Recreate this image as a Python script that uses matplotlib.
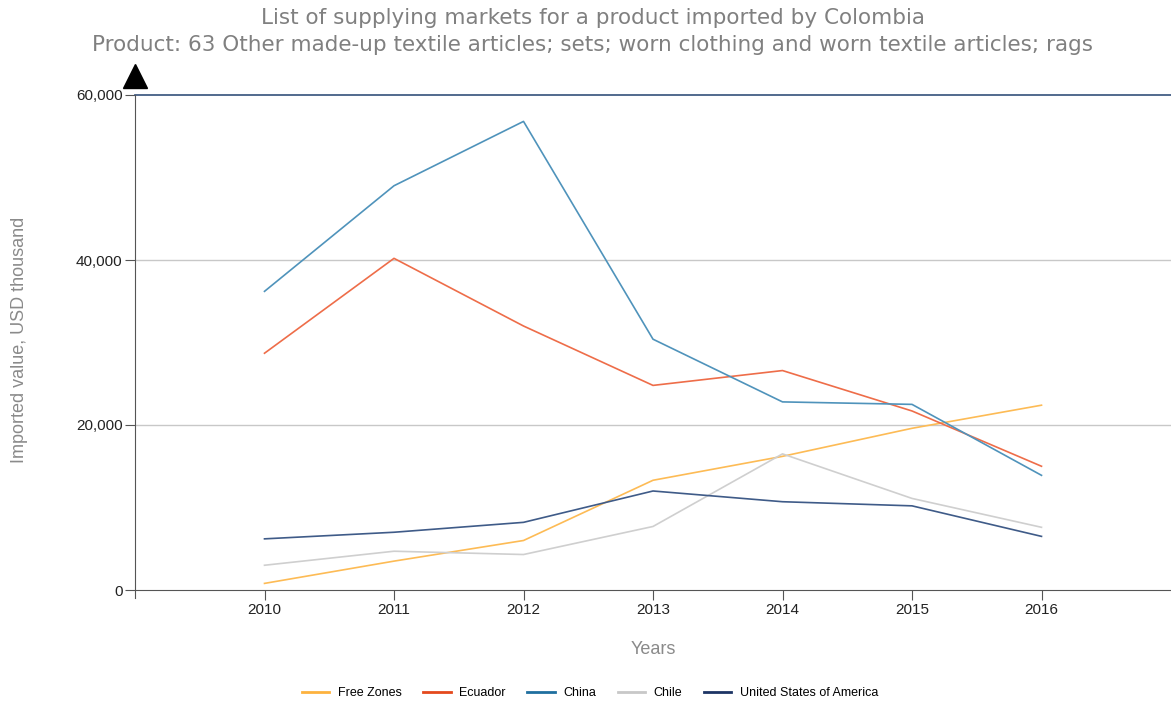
import matplotlib.pyplot as plt
from matplotlib.lines import Line2D

years = [2010, 2011, 2012, 2013, 2014, 2015, 2016]
free_zones = [800, 3500, 6000, 13300, 16200, 19600, 22400]
ecuador = [28700, 40200, 32000, 24800, 26600, 21700, 15000]
china = [36200, 49000, 56800, 30400, 22800, 22500, 13900]
chile = [3000, 4700, 4300, 7700, 16500, 11100, 7600]
usa = [6200, 7000, 8200, 12000, 10700, 10200, 6500]

series_names = ['Free Zones', 'Ecuador', 'China', 'Chile', 'United States of America']
series_vals = [free_zones, ecuador, china, chile, usa]
line_cols = ['#fdbb55', '#ee6d49', '#4f93bb', '#cfcfcf', '#3f5b88']
legend_cols = ['#fdb23e', '#e4491d', '#1f6f9f', '#c8c8c8', '#1d3465']

plt.rcParams['font.family'] = ['Liberation Sans', 'DejaVu Sans']

fig = plt.figure(figsize=(11.71, 7.04), dpi=100)
ax = fig.add_axes([135/1171, 1-590/704, 1-135/1171, (590-95)/704])

for vals, col in zip(series_vals, line_cols):
    ax.plot(years, vals, color=col, lw=1.2)

ax.set_xlim(2009, 2017)
ax.set_ylim(0, 60000)
ax.set_xticks(years)
ax.set_yticks([0, 20000, 40000, 60000])
ax.set_yticklabels(['0', '20,000', '40,000', '60,000'])
ax.tick_params(labelsize=11, length=7, color='#555555', labelcolor='#222222', pad=2)

for y in [20000, 40000]:
    ax.axhline(y, color='#c8c8c8', lw=1, zorder=0)
ax.axhline(60000, color='#34507a', lw=1.2, clip_on=False)

for s in ['top', 'right']:
    ax.spines[s].set_visible(False)
ax.spines['left'].set_color('#555555')
ax.spines['bottom'].set_color('#555555')
ax.spines['left'].set_bounds(-1000, 60000)

# arrow on top of y axis
ax.plot([2009], [62300], marker='^', markersize=17, color='black', clip_on=False)

fig.text(20/1171, 1-340/704, 'Imported value, USD thousand', rotation=90,
         ha='center', va='center', fontsize=13, color='#8a8a8a')
fig.text(653/1171, 1-650/704, 'Years', ha='center', va='center', fontsize=13, color='#8a8a8a')

fig.text(593/1171, 1-18/704, 'List of supplying markets for a product imported by Colombia',
         ha='center', va='center', fontsize=15.5, color='#808080', family='DejaVu Sans')
fig.text(593/1171, 1-45/704,
         'Product: 63 Other made-up textile articles; sets; worn clothing and worn textile articles; rags',
         ha='center', va='center', fontsize=15.5, color='#808080', family='DejaVu Sans')

handles = [Line2D([], [], color=c, lw=2) for c in legend_cols]
fig.legend(handles, series_names, loc='center', bbox_to_anchor=(590/1171, 1-693/704),
           ncol=5, frameon=False, fontsize=9, handlelength=2.2, columnspacing=1.7,
           handletextpad=0.7)

fig.savefig('out.png', dpi=100)
